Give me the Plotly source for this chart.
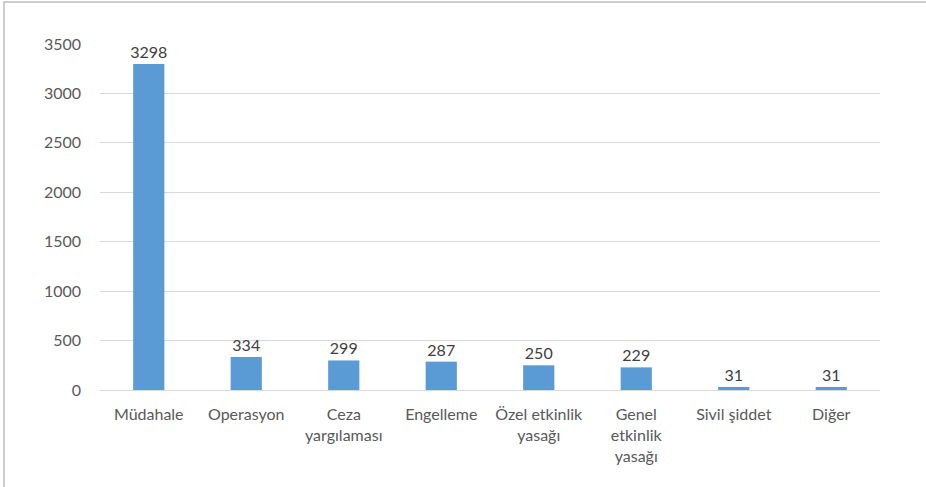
import plotly.graph_objects as go

categories = ["Müdahale", "Operasyon", "Ceza<br>yargılaması", "Engelleme",
              "Özel etkinlik<br>yasağı", "Genel<br>etkinlik<br>yasağı", "Sivil şiddet", "Diğer"]
values = [3298, 334, 299, 287, 250, 229, 31, 31]
y_ticks = [0, 500, 1000, 1500, 2000, 2500, 3000, 3500]

W, H = 926, 487
L, R, T, B = 100, 46, 44, 97
pw, ph = W - L - R, H - T - B

FONT = "Lato, Noto Sans, sans-serif"

fig = go.Figure(go.Bar(
    x=categories, y=values,
    marker=dict(color="#5B9BD5", line=dict(width=0)),
    width=0.32,
    text=[str(v) for v in values],
    textposition="outside",
    textfont=dict(family=FONT, size=16, color="#404040"),
    constraintext="none",
    cliponaxis=False,
))

fig.update_layout(
    width=W, height=H,
    margin=dict(l=L, r=R, t=T, b=B),
    paper_bgcolor="white", plot_bgcolor="white",
    showlegend=False,
    font=dict(family=FONT, size=16, color="#595959"),
    xaxis=dict(showline=True, linecolor="#D9D9D9", linewidth=1, showgrid=False,
               ticks="", tickfont=dict(size=16, color="#595959"),
               ticklabelstandoff=10, tickangle=0),
    yaxis=dict(range=[0, 3500], tickvals=y_ticks, showgrid=True, gridcolor="#D9D9D9",
               gridwidth=1, zeroline=False, showline=False, ticks="",
               tickfont=dict(size=16, color="#595959"), ticklabelstandoff=18),
    bargap=0.68,
)

# chart border (extends beyond the visible window on the right and bottom)
x0 = (4 - L) / pw
x1 = (W + 5 - L) / pw
y1 = 1 + (T - 2) / ph
y0 = -(B + 5) / ph
fig.add_shape(type="rect", xref="paper", yref="paper", x0=x0, x1=x1, y0=y0, y1=y1,
              line=dict(color="#BFBFBF", width=1.5), fillcolor="rgba(0,0,0,0)", layer="above")

fig.write_html("out.html",
               config={"displayModeBar": False},
               post_script="document.body.style.margin='0';document.body.style.overflow='hidden';")
